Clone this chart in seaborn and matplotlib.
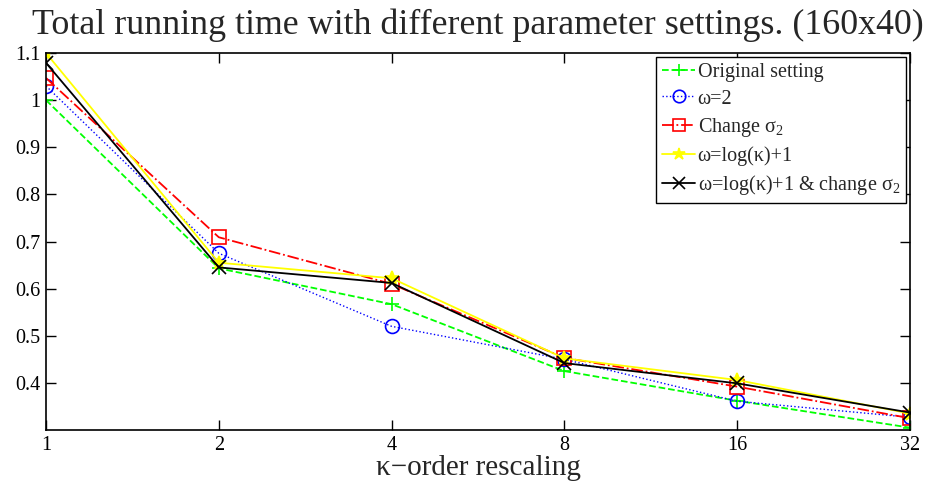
import matplotlib
matplotlib.use("Agg")
import matplotlib.pyplot as plt
import seaborn as sns
import pandas as pd
import numpy as np

sns.set_theme(style="white")
plt.rcParams['font.family'] = ['Liberation Serif', 'DejaVu Serif']
plt.rcParams['mathtext.default'] = 'regular'
plt.rcParams['mathtext.fontset'] = 'custom'
plt.rcParams['mathtext.rm'] = 'Liberation Serif'

kappa = [1, 2, 4, 8, 16, 32]
original = [1.000, 0.643, 0.567, 0.425, 0.362, 0.305]
omega2 = [1.030, 0.675, 0.520, 0.450, 0.361, 0.327]
change_sigma = [1.047, 0.709, 0.610, 0.453, 0.392, 0.325]
omega_log = [1.100, 0.655, 0.622, 0.452, 0.406, 0.335]
omega_log_sigma = [1.079, 0.645, 0.612, 0.442, 0.399, 0.337]

labels = ["Original setting", "\u03c9=2", "Change $\\sigma_2$",
          "\u03c9=log(\u03ba)+1", "\u03c9=log(\u03ba)+1 & change $\\sigma_2$"]
series = [original, omega2, change_sigma, omega_log, omega_log_sigma]
colors = ["#00ff00", "#0000ff", "#ff0000", "#ffff00", "#000000"]
styles = ["--", ":", "-.", "-", "-"]
markers = ["+", "o", "s", "*", "x"]
xticklabels = ["1", "2", "4", "8", "16", "32"]
yticks = [0.4, 0.5, 0.6, 0.7, 0.8, 0.9, 1.0, 1.1]
yticklabels = ["0.4", "0.5", "0.6", "0.7", "0.8", "0.9", "1", "1.1"]

fig = plt.figure(figsize=(9.33, 4.83), dpi=100)
ax = fig.add_axes([46/933, 1 - 430/483, (910-46)/933, (430-53)/483])

for lab, vals, c, ls, m in zip(labels, series, colors, styles, markers):
    df = pd.DataFrame({"k": kappa, "t": vals})
    lw = 1.0 if ls == ":" else 1.3
    sns.lineplot(data=df, x="k", y="t", ax=ax, color=c, linestyle=ls, marker=m,
                 markersize=10, markerfacecolor='none' if m in ('o', 's') else c,
                 markeredgecolor=c, markeredgewidth=1.2, linewidth=lw, label=lab)

ax.set_xscale("log", base=2)
ax.set_xlim(1, 32)
ax.set_ylim(0.3, 1.1)
ax.set_xticks(kappa)
ax.set_xticklabels(xticklabels)
ax.minorticks_off()
ax.set_yticks(yticks)
ax.set_yticklabels(yticklabels)
ax.tick_params(direction="in", length=7, width=1, colors="black", labelsize=14.5,
               top=True, right=True, bottom=True, left=True, pad=4)
for s in ax.spines.values():
    s.set_color("black")
    s.set_linewidth(1.2)
ax.set_xlabel("\u03ba\u2212order rescaling", fontsize=21, labelpad=0)
ax.set_ylabel("")
ax.set_title("Total running time with different parameter settings. (160x40)",
             fontsize=25.8, pad=14)

leg = ax.legend(loc="upper right", fontsize=14.5, frameon=True, fancybox=False,
                edgecolor="black", framealpha=1, borderpad=0.3, labelspacing=0.36,
                handlelength=1.6, handletextpad=0.15, borderaxespad=0.2,
                markerscale=0.9)
leg.get_frame().set_linewidth(1.0)

fig.savefig("out.png", dpi=100)
